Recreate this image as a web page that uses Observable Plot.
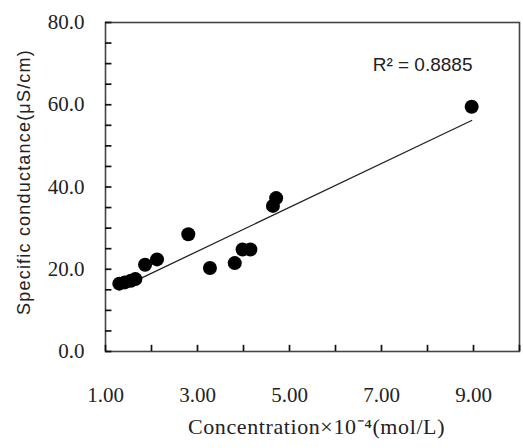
<!DOCTYPE html>
<html>
<head>
<meta charset="utf-8">
<script src="https://cdn.jsdelivr.net/npm/d3@7"></script>
<script src="https://cdn.jsdelivr.net/npm/@observablehq/plot@0.6"></script>
<style>
  html, body { margin: 0; padding: 0; background: #fff; }
  .xtitle { letter-spacing: 0.6px; }
  .ytitle { letter-spacing: 1.2px; }
</style>
</head>
<body>
<div id="chart"></div>
<script>
// Data
const concentration = [1.30, 1.42, 1.55, 1.65, 1.86, 2.12, 2.80, 3.27, 3.81, 3.98, 4.15, 4.64, 4.71, 8.96];
const conductance   = [16.5, 16.8, 17.2, 17.6, 21.1, 22.4, 28.5, 20.3, 21.5, 24.8, 24.8, 35.4, 37.3, 59.5];

const xTickValues = [1, 2, 3, 4, 5, 6, 7, 8, 9, 10];
const xTickLabels = [1, 3, 5, 7, 9];
const yTickValues = [0, 5, 10, 15, 20, 25, 30, 35, 40, 45, 50, 55, 60, 65, 70, 75, 80];
const yTickLabels = [0, 20, 40, 60, 80];

const xTitle = "Concentration×10⁻⁴(mol/L)";
const yTitle = "Specific conductance(μS/cm)";
const r2Label = "R² = 0.8885";

const data = concentration.map((c, i) => ({x: c, y: conductance[i]}));

const chart = Plot.plot({
  width: 523,
  height: 448,
  marginTop: 22,
  marginBottom: 97,
  marginLeft: 105,
  marginRight: 4,
  style: {fontFamily: "'Liberation Serif', serif", fontSize: "21px", background: "#fff", color: "#222"},
  x: {domain: [1, 10]},
  y: {domain: [0, 80]},
  marks: [
    Plot.frame({stroke: "#444", strokeWidth: 1.6}),
    // inward tick marks
    Plot.ruleX(xTickValues, {x: d => d, y1: 0, y2: 1.5, stroke: "#111", strokeWidth: 1.7}),
    Plot.ruleY(yTickValues, {y: d => d, x1: 1, x2: 1.14, stroke: "#111", strokeWidth: 1.7}),
    Plot.axisX({ticks: xTickLabels, tickSize: 0, tickPadding: 36, tickFormat: d3.format(".2f"), label: null, fill: "#222"}),
    Plot.axisY({ticks: yTickLabels, tickSize: 0, tickPadding: 21, tickFormat: d3.format(".1f"), label: null, fill: "#222"}),
    Plot.linearRegressionY(data, {x: "x", y: "y", ci: 0, stroke: "#222", strokeWidth: 1.3}),
    Plot.dot(data, {x: "x", y: "y", r: 7, fill: "#000", stroke: "none"}),
    Plot.text([r2Label], {text: d => d, frameAnchor: "top-right", dx: -47, dy: 35, textAnchor: "end",
      fontFamily: "'Liberation Sans', sans-serif", fontSize: 19, fill: "#222"}),
    Plot.text([xTitle], {text: d => d, frameAnchor: "bottom", dx: 4, dy: 82, fontSize: 22, fill: "#222", className: "xtitle"}),
    Plot.text([yTitle], {text: d => d, frameAnchor: "left", textAnchor: "middle", dx: -81, dy: -5, rotate: -90,
      fontFamily: "'Liberation Sans', sans-serif", fontSize: 18, fill: "#222", className: "ytitle"})
  ]
});
document.getElementById("chart").appendChild(chart);
</script>
</body>
</html>
